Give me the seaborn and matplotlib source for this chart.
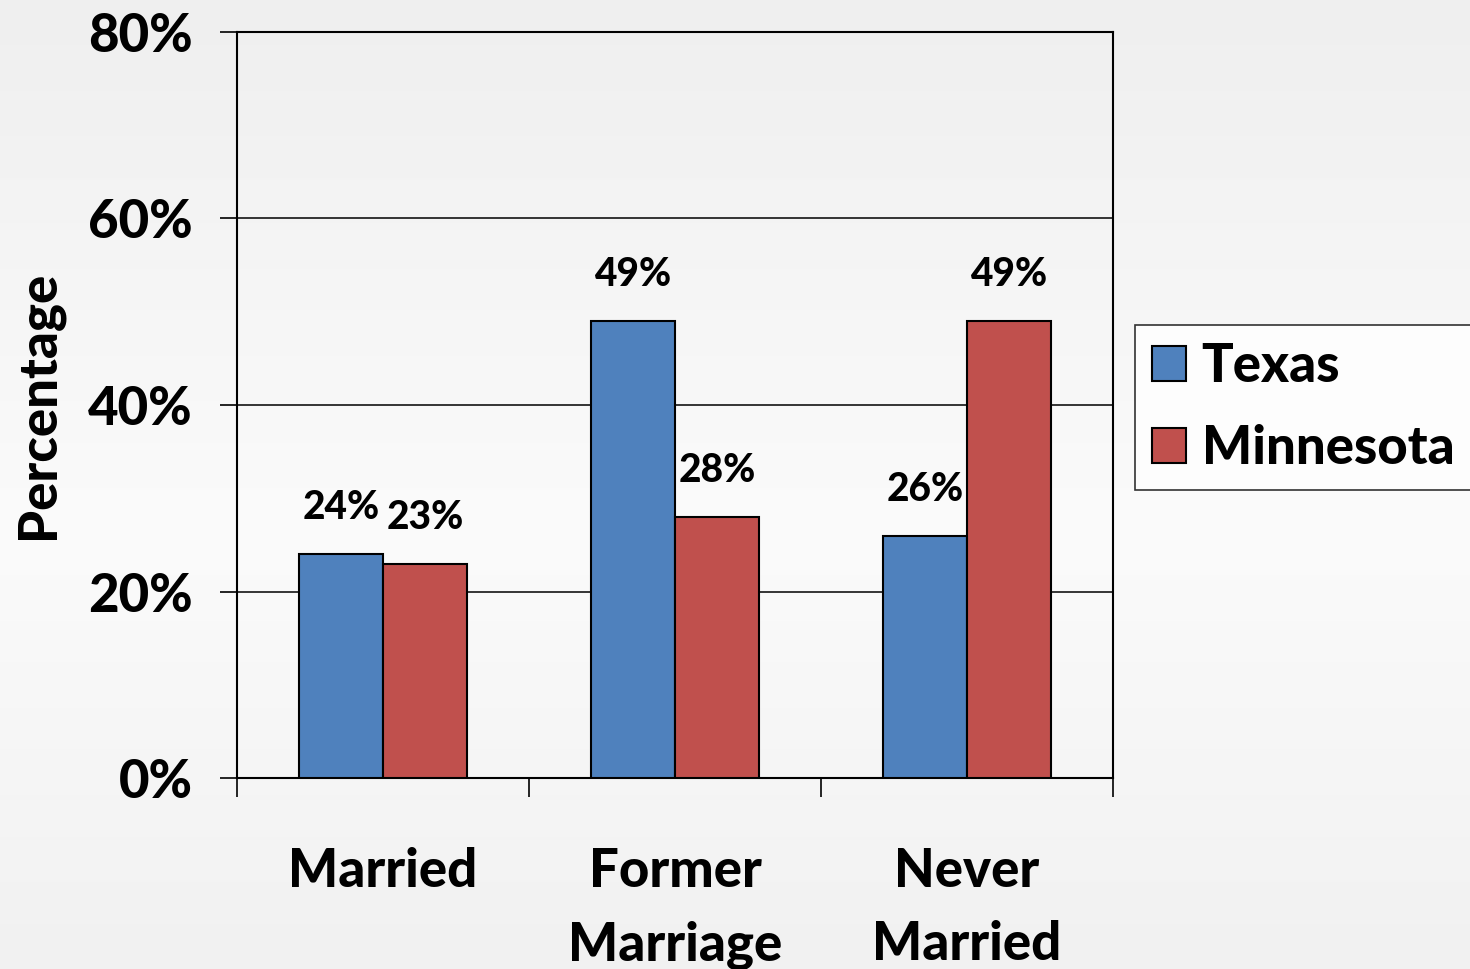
import pandas as pd
import numpy as np
import matplotlib.pyplot as plt
from matplotlib.ticker import PercentFormatter, FixedLocator
from matplotlib.colors import LinearSegmentedColormap
import seaborn as sns

sns.set_style('white')
plt.rcParams['font.family'] = ['Lato', 'DejaVu Sans']
for k in ['text.color', 'axes.labelcolor', 'xtick.color', 'ytick.color']:
    plt.rcParams[k] = 'black'
W = 'black'

# data
status = ['Married', 'Former\nMarriage', 'Never\nMarried']
states = ['Texas', 'Minnesota']
texas = [24, 49, 26]
minnesota = [23, 28, 49]
colors = ['#4F81BD', '#C0504D']

df = pd.DataFrame({
    'status': status * 2,
    'state': [states[0]] * 3 + [states[1]] * 3,
    'pct': texas + minnesota,
})

fig = plt.figure(figsize=(14.7, 9.69), dpi=100)

# soft grey background gradient
bg = fig.add_axes([0, 0, 1, 1], zorder=-10)
cmap = LinearSegmentedColormap.from_list('bg', [(0, '#efefef'), (0.55, '#fbfbfb'), (1, '#f1f1f1')])
bg.imshow(np.linspace(0, 1, 256).reshape(-1, 1), aspect='auto', cmap=cmap, extent=[0, 1, 0, 1])
bg.axis('off')

ax = fig.add_axes([237/1470, 1 - 778/969, (1113-237)/1470, (778-32)/969])
ax.set_facecolor('none')

sns.barplot(data=df, x='status', y='pct', hue='state', palette=colors, saturation=1,
            width=0.575, edgecolor='black', linewidth=1.5, ax=ax, zorder=3)

for cont in ax.containers:
    ax.bar_label(cont, labels=[f'{v:.0f}%' for v in cont.datavalues],
                 padding=20, fontsize=28, fontweight=W, color='black')

ax.set_ylim(0, 80)
ax.set_xlim(-0.5, 2.5)
ax.set_yticks([0, 20, 40, 60, 80])
ax.yaxis.set_major_formatter(PercentFormatter(100, decimals=0))
ax.grid(axis='y', color='black', linewidth=1.1, zorder=0)
ax.set_axisbelow(True)

for s in ax.spines.values():
    s.set_visible(True)
    s.set_color('black')
    s.set_linewidth(1.5)

ax.tick_params(axis='y', which='major', direction='out', length=12, width=1.2,
               pad=20, labelsize=38, left=True, colors='black')
ax.tick_params(axis='x', which='major', length=0, pad=50, labelsize=38, colors='black')
ax.xaxis.set_minor_locator(FixedLocator([-0.5, 0.5, 1.5, 2.5]))
ax.tick_params(axis='x', which='minor', direction='out', length=14, width=1.2, bottom=True, colors='black')
for lab in ax.get_xticklabels():
    lab.set_verticalalignment('top')
    lab.set_linespacing(1.6)
for lab in ax.get_yticklabels() + ax.get_xticklabels():
    lab.set_fontweight(W)

ax.set_xlabel('')
ax.set_ylabel('Percentage', fontsize=38, fontweight=W, labelpad=18, color='black')

leg = ax.legend(loc='upper left', bbox_to_anchor=(1135/1470, 1 - 325/969),
                bbox_transform=fig.transFigure, frameon=True, fancybox=False,
                fontsize=38, handlelength=0.64, handleheight=0.64, handletextpad=0.3,
                labelspacing=0.62, borderpad=0.32, borderaxespad=0)
leg.get_frame().set_edgecolor('black')
leg.get_frame().set_linewidth(1.2)
leg.get_frame().set_facecolor('white')
for t in leg.get_texts():
    t.set_fontweight(W)
    t.set_color('black')

fig.savefig('out.png', dpi=100)
